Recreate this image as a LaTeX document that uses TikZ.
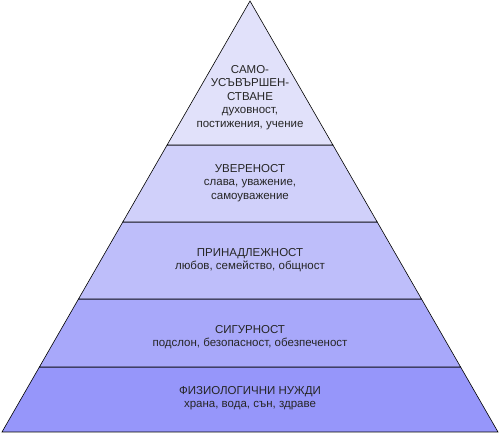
\documentclass[tikz,border=0pt]{standalone}
\usepackage{fontspec}
\setmainfont{Liberation Sans}
\definecolor{lvlA}{RGB}{150,150,250}
\definecolor{lvlB}{RGB}{168,168,250}
\definecolor{lvlC}{RGB}{190,190,250}
\definecolor{lvlD}{RGB}{208,208,250}
\definecolor{lvlE}{RGB}{225,225,250}
\tikzset{
  band/.style={draw=black,line width=0.6pt,line join=miter},
  lbl/.style={align=center,font=\fontsize{11.5}{13.5}\selectfont,text=black!85}
}
\begin{document}
\begin{tikzpicture}[x=1pt,y=1pt]
  \useasboundingbox (0,0) rectangle (500,433);
  % bands of the pyramid, bottom to top
  \foreach \yb/\yt/\lb/\lt/\c in {1/66/2/39.4/lvlA,66/134/39.4/78.5/lvlB,
      134/211/78.5/122.8/lvlC,211/288/122.8/167.1/lvlD,288/432/167.1/250/lvlE} {
    \filldraw[band,fill=\c] (\lb,\yb) -- (\lt,\yt) -- ({500-\lt},\yt) -- ({500-\lb},\yb) -- cycle;
  }

  \node[lbl] (self) at (250,335.5) {САМО-\\УСЪВЪРШЕН-\\СТВАНЕ\\духовност,\\постижения, учение};
  \node[lbl] (esteem) at (250,250) {УВЕРЕНОСТ\\слава, уважение,\\самоуважение};
  \node[lbl] (belong) at (250,173) {ПРИНАДЛЕЖНОСТ\\любов, семейство, общност};
  \node[lbl] (safety) at (250,96) {СИГУРНОСТ\\подслон, безопасност, обезпеченост};
  \node[lbl] (body) at (250,35) {ФИЗИОЛОГИЧНИ НУЖДИ\\храна, вода, сън, здраве};
\end{tikzpicture}
\end{document}
